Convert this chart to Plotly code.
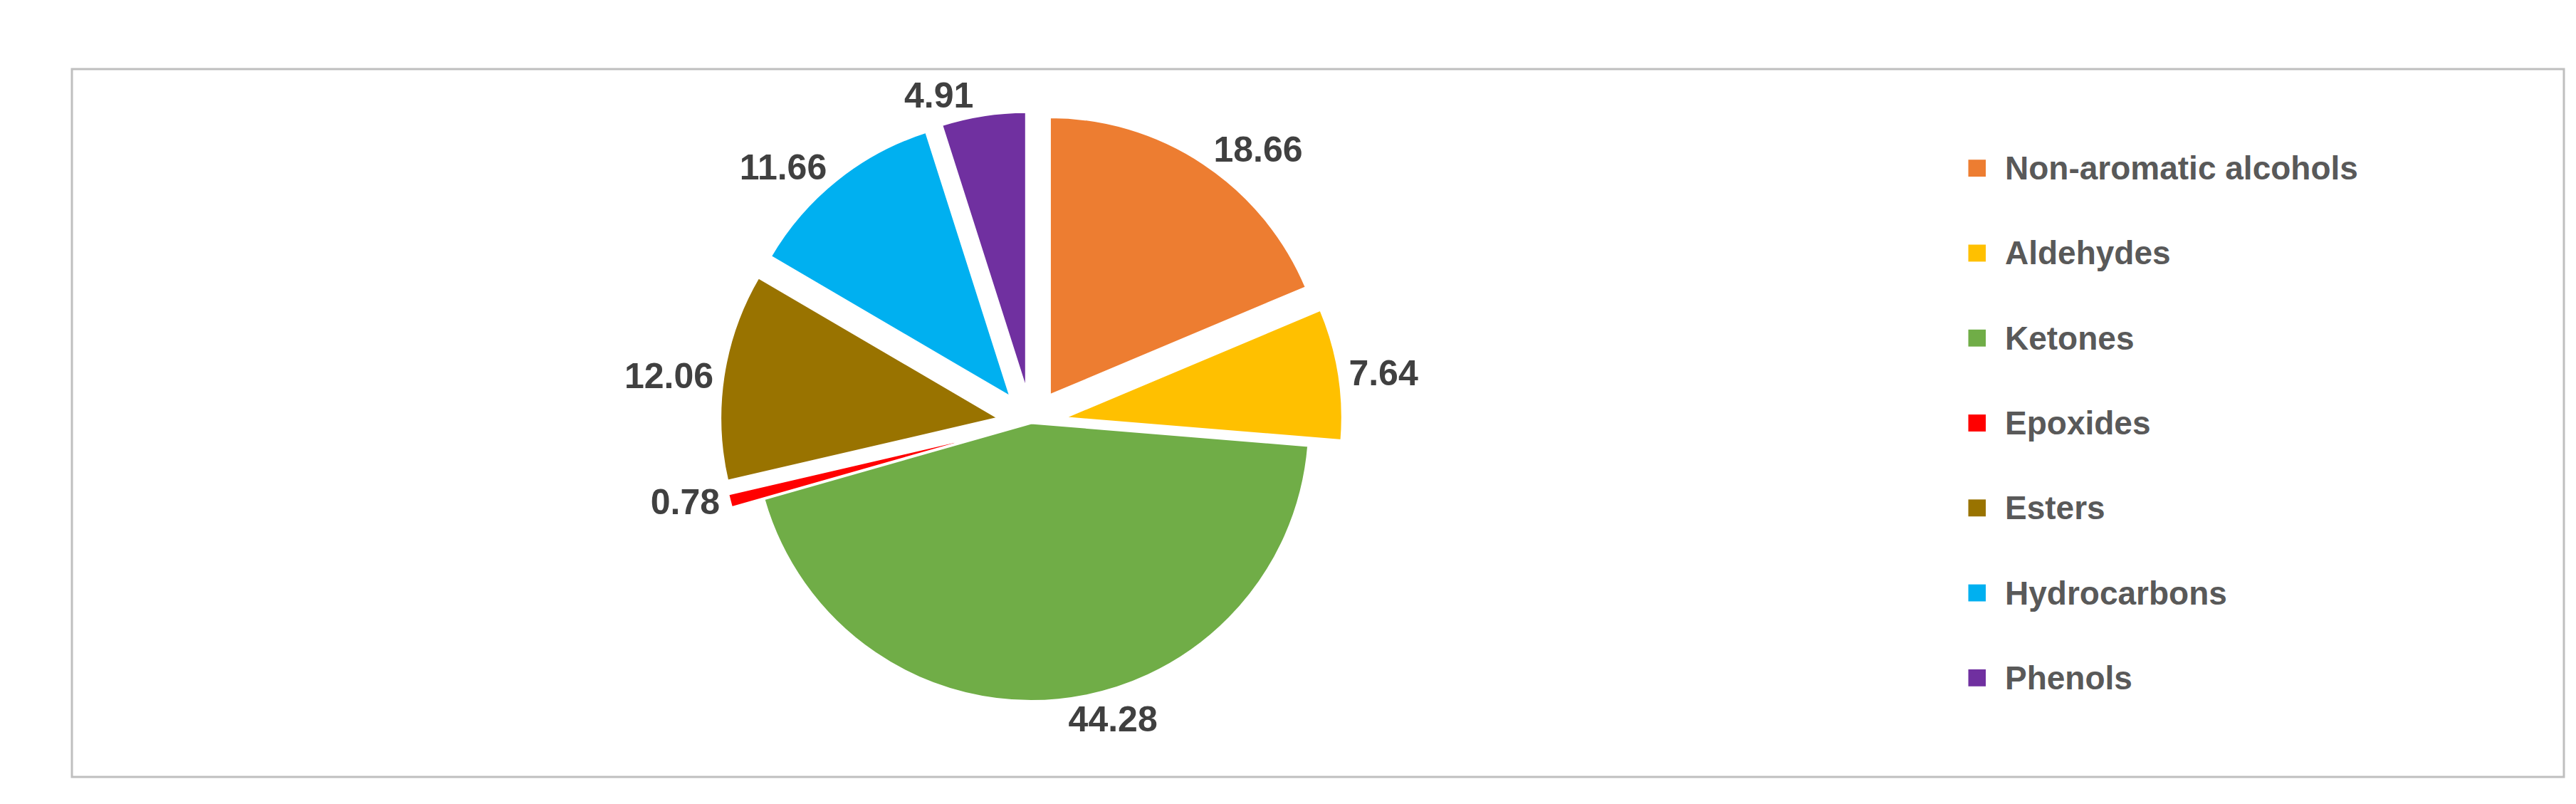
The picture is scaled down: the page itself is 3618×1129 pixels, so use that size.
import plotly.graph_objects as go

categories = ["Non-aromatic alcohols", "Aldehydes", "Ketones", "Epoxides", "Esters", "Hydrocarbons", "Phenols"]
values = [18.66, 7.64, 44.28, 0.78, 12.06, 11.66, 4.91]
colors = ["#ED7D31", "#FFC000", "#70AD47", "#FF0000", "#997300", "#00B0F0", "#7030A0"]
pulls = [0.12, 0.12, 0.0, 0.12, 0.12, 0.12, 0.12]

fig = go.Figure(go.Pie(
    labels=categories, values=values, sort=False, direction="clockwise", rotation=0,
    marker=dict(colors=colors, line=dict(color="white", width=3)),
    pull=pulls, texttemplate="<b>%{value:.2f}</b>", textposition="outside",
    textfont=dict(family="Liberation Sans", size=50, color="#404040"),
    domain=dict(x=[0.15, 0.62], y=[0.06, 0.94]),
    showlegend=False,
))

shapes = [dict(type="rect", xref="paper", yref="paper", x0=0, y0=0, x1=1, y1=1,
               line=dict(color="#BFBFBF", width=3))]
annotations = []
n = len(categories)
for i, (cat, col) in enumerate(zip(categories, colors)):
    y = 0.86 - i * (0.72 / (n - 1))
    shapes.append(dict(type="rect", xref="paper", yref="paper",
                       x0=0.761, x1=0.768, y0=y - 0.012, y1=y + 0.012,
                       fillcolor=col, line=dict(width=0)))
    annotations.append(dict(x=0.775, y=y, xref="paper", yref="paper", xanchor="left",
                            yanchor="middle", showarrow=False, text=f"<b>{cat}</b>",
                            font=dict(family="Liberation Sans", size=46, color="#595959")))

fig.update_layout(
    width=3618, height=1129, paper_bgcolor="white", plot_bgcolor="white",
    margin=dict(l=25, r=25, t=25, b=25),
    font=dict(family="Liberation Sans"),
    shapes=shapes, annotations=annotations,
)
fig.write_html("out.html")
